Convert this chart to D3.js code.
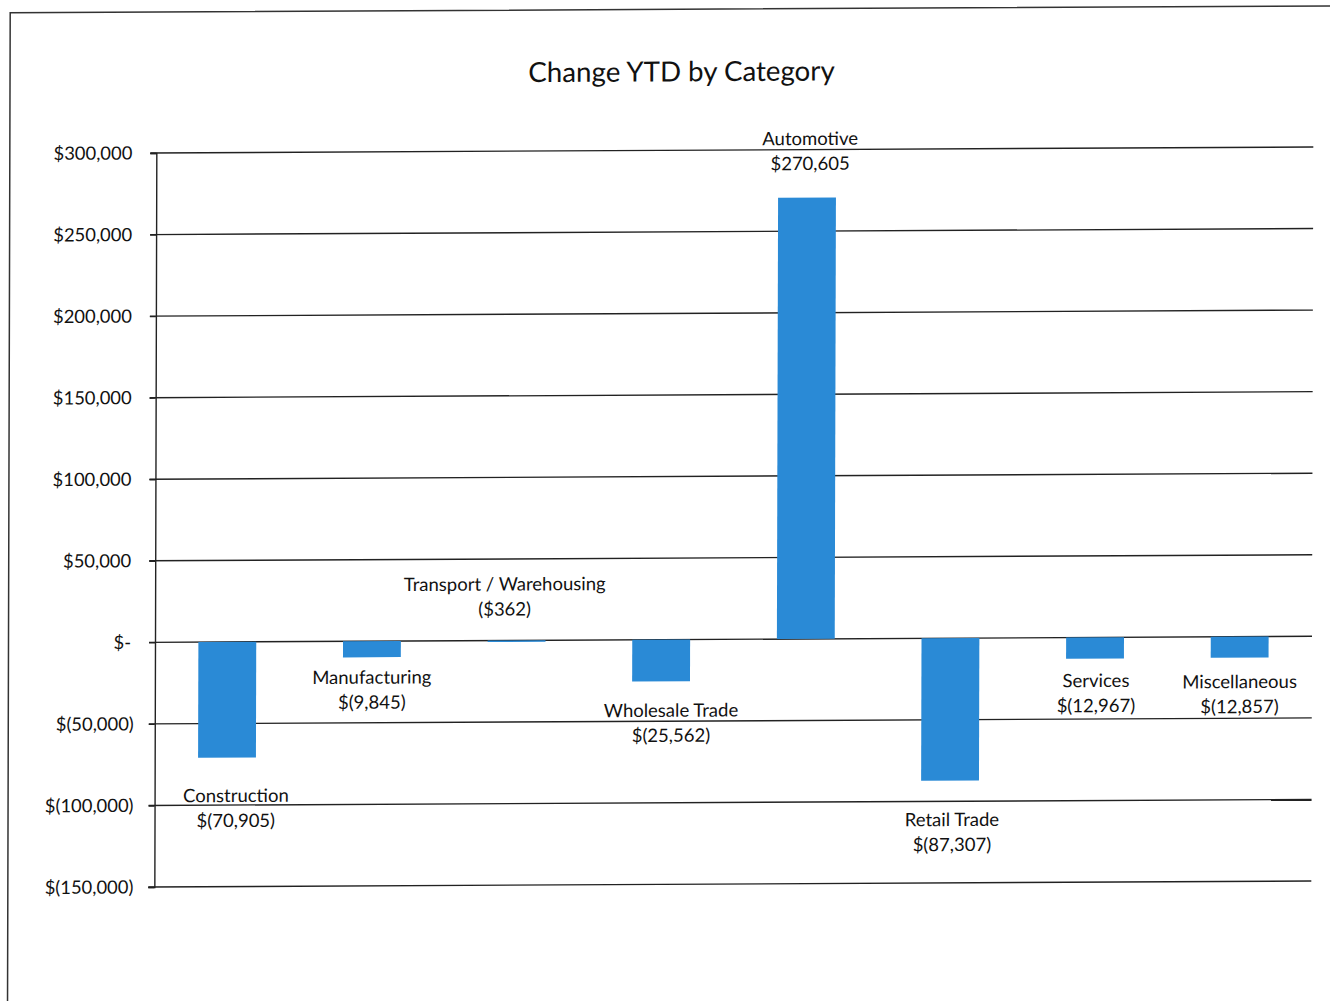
<!DOCTYPE html>
<html>
<head>
<meta charset="utf-8">
<script src="https://cdn.jsdelivr.net/npm/d3@7"></script>
<style>
  body { margin: 0; background: #fff; }
  text { font-family: Lato, "Open Sans", sans-serif; fill: #111; }
</style>
</head>
<body>
<div id="chart"></div>
<script>
// data
var categories = ["Construction", "Manufacturing", "Transport / Warehousing", "Wholesale Trade",
                  "Automotive", "Retail Trade", "Services", "Miscellaneous"];
var values = [-70905, -9845, -362, -25562, 270605, -87307, -12967, -12857];
var valueLabels = ["$(70,905)", "$(9,845)", "($362)", "$(25,562)", "$270,605", "$(87,307)", "$(12,967)", "$(12,857)"];
var yTicks = [300000, 250000, 200000, 150000, 100000, 50000, 0, -50000, -100000, -150000];

// layout
var W = 1330, H = 1001;
var plot = {left: 155, right: 1312, top: 153, bottom: 887};

// manual nudges of the data labels (Excel labels were dragged around)
var labelNudge = {
  "Construction": {dx: 9, dy: 38},
  "Manufacturing": {dx: 0, dy: 20},
  "Transport / Warehousing": {dx: -12, dy: -57},
  "Wholesale Trade": {dx: 10, dy: 29},
  "Automotive": {dx: 3, dy: -59},
  "Retail Trade": {dx: 2, dy: 39},
  "Services": {dx: 1, dy: 22},
  "Miscellaneous": {dx: 0, dy: 24}
};

var svg = d3.select("#chart")
  .append("svg")
    .attr("width", W)
    .attr("height", H);

svg.append("rect")
  .attr("width", W).attr("height", H)
  .attr("fill", "#fff");

// the scan is slightly skewed: horizontals climb to the right, verticals lean left at the bottom
var skewX = -0.0027, skewY = -0.0052;
var g = svg.append("g")
  .attr("transform", "matrix(1," + skewY + "," + skewX + ",1," + (-skewX * 643) + "," + (-skewY * 155) + ")");

// outer chart border (only top and left edge in frame)
g.append("rect")
  .attr("x", 8.5).attr("y", 12)
  .attr("width", 1400).attr("height", 1100)
  .attr("fill", "none")
  .attr("stroke", "#333")
  .attr("stroke-width", 1.5);

var x = d3.scaleBand()
  .domain(categories)
  .range([plot.left, plot.right])
  .paddingInner(0.6)
  .paddingOuter(0.3);

var y = d3.scaleLinear()
  .domain([-150000, 300000])
  .range([plot.bottom, plot.top]);

function fmtMoney(v) {
  if (v === 0) return "$-";
  var s = d3.format(",")(Math.abs(v));
  return v < 0 ? "$(" + s + ")" : "$" + s;
}

// gridlines
g.append("g")
  .selectAll("line")
  .data(yTicks)
  .join("line")
    .attr("x1", plot.left - 6)
    .attr("x2", plot.right)
    .attr("y1", function(d) { return y(d); })
    .attr("y2", function(d) { return y(d); })
    .attr("stroke", "#222")
    .attr("stroke-width", 1.4);

// y axis
var yAxis = g.append("g")
  .attr("transform", "translate(" + plot.left + ",0)")
  .call(d3.axisLeft(y).tickValues(yTicks).tickFormat(fmtMoney).tickSize(6).tickPadding(18));
yAxis.select(".domain").attr("stroke", "#222").attr("stroke-width", 1.4);
yAxis.selectAll(".tick line").attr("stroke", "#222").attr("stroke-width", 1.4);
yAxis.selectAll(".tick text")
  .attr("font-size", 18.4)
  .attr("font-family", "Lato, 'Open Sans', sans-serif")
  .attr("fill", "#111")
  .attr("dx", function(d) { return d < 0 ? 3 : 0; });

// bars
g.append("g")
  .selectAll("rect")
  .data(categories)
  .join("rect")
    .attr("x", function(d) { return x(d); })
    .attr("width", x.bandwidth())
    .attr("y", function(d, i) { return y(Math.max(0, values[i])); })
    .attr("height", function(d, i) { return Math.max(1.5, Math.abs(y(values[i]) - y(0))); })
    .attr("fill", "#2a8ad6");

// data labels: category name and value on two lines
var labels = g.append("g")
  .selectAll("text")
  .data(categories)
  .join("text")
    .attr("text-anchor", "middle")
    .attr("font-size", 18.5)
    .attr("transform", function(d, i) {
      var n = labelNudge[d];
      return "translate(" + (x(d) + x.bandwidth() / 2 + n.dx) + "," + (y(values[i]) + n.dy) + ")";
    });
labels.append("tspan")
  .attr("x", 0).attr("dy", "0.35em")
  .text(function(d) { return d; });
labels.append("tspan")
  .attr("x", 0).attr("dy", 25)
  .text(function(d, i) { return valueLabels[i]; });

// title
g.append("text")
  .attr("x", 680)
  .attr("y", 84)
  .attr("text-anchor", "middle")
  .attr("font-size", 27.7)
  .text("Change YTD by Category");
</script>
</body>
</html>
